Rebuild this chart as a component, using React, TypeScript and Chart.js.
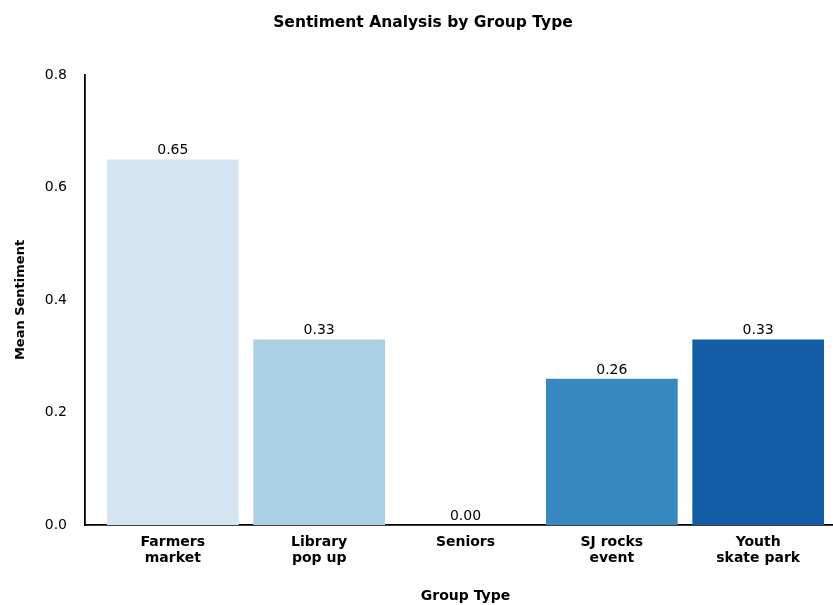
import React, { useEffect, useRef } from "react";
import { Chart, registerables } from "chart.js";

Chart.register(...registerables);

// Groups along the x axis (multi-line labels)
const groupLabels: string[][] = [
  ["Farmers", "market"],
  ["Library", "pop up"],
  ["Seniors"],
  ["SJ rocks", "event"],
  ["Youth", "skate park"],
];

// Mean sentiment per group
const meanSentiment: number[] = [0.65, 0.33, 0.0, 0.26, 0.33];

// Bar fills, light to dark blue
const barColors: string[] = ["#d4e4f3", "#abd0e6", "#6aaed6", "#3888c1", "#135ca6"];

// Y-axis tick values
const yTicks: number[] = [0, 0.2, 0.4, 0.6, 0.8];

const FONT = "'DejaVu Sans', 'Liberation Sans', Arial, sans-serif";

// Prints each bar's value just above its top
const valueLabels = {
  id: "valueLabels",
  afterDatasetsDraw(chart: any) {
    const ctx = chart.ctx;
    const meta = chart.getDatasetMeta(0);
    ctx.save();
    ctx.font = `14px ${FONT}`;
    ctx.fillStyle = "#000";
    ctx.textAlign = "center";
    ctx.textBaseline = "alphabetic";
    meta.data.forEach((bar: any, i: number) => {
      ctx.fillText(meanSentiment[i].toFixed(2), bar.x, bar.y - 5);
    });
    ctx.restore();
  },
};

export default function App() {
  const canvasRef = useRef<HTMLCanvasElement | null>(null);

  useEffect(() => {
    if (!canvasRef.current) return;
    const chart = new Chart(canvasRef.current, {
      type: "bar",
      data: {
        datasets: [
          {
            data: meanSentiment.map((v, i) => ({ x: i, y: v })),
            backgroundColor: barColors,
            borderWidth: 0,
            barPercentage: 0.9,
            categoryPercentage: 1.0,
          },
        ],
      },
      options: {
        responsive: false,
        animation: false,
        layout: { padding: { left: 0, right: 85, top: 0, bottom: 0 } },
        plugins: {
          legend: { display: false },
          tooltip: { enabled: false },
          title: {
            display: true,
            text: "Sentiment Analysis by Group Type",
            color: "#000",
            font: { family: FONT, size: 15.5, weight: "bold", lineHeight: 1.2 },
            padding: { top: 13.5, bottom: 42.9 },
          },
        },
        scales: {
          x: {
            type: "linear",
            min: -0.6,
            max: groupLabels.length - 0.4,
            offset: false,
            grid: { display: false },
            border: { display: true, color: "#000", width: 1.8 },
            afterBuildTicks: (axis: any) => {
              axis.ticks = groupLabels.map((_, i) => ({ value: i }));
            },
            afterFit: (axis: any) => {
              axis.height = 80;
            },
            ticks: {
              autoSkip: false,
              maxRotation: 0,
              padding: 1,
              color: "#000",
              font: { family: FONT, size: 14, weight: "bold", lineHeight: 1.15 },
              callback: (value: any) => groupLabels[Number(value)] ?? "",
            },
            title: {
              display: true,
              text: "Group Type",
              color: "#000",
              font: { family: FONT, size: 14, weight: "bold", lineHeight: 1.2 },
              padding: { top: 0, bottom: 0.6 },
            },
          },
          y: {
            min: 0,
            max: 0.8,
            grid: { display: false },
            border: { display: true, color: "#000", width: 1.8 },
            afterBuildTicks: (axis: any) => {
              axis.ticks = yTicks.map((v) => ({ value: v }));
            },
            afterFit: (axis: any) => {
              axis.width = 85;
            },
            ticks: {
              padding: 10,
              color: "#000",
              font: { family: FONT, size: 14 },
              callback: (value: any) => Number(value).toFixed(1),
            },
            title: {
              display: true,
              text: "Mean Sentiment",
              color: "#000",
              font: { family: FONT, size: 13, weight: "bold", lineHeight: 1.2 },
              padding: { top: 13.2, bottom: 0 },
            },
          },
        },
      },
      plugins: [valueLabels],
    } as any);
    return () => chart.destroy();
  }, []);

  return (
    <div
      style={{
        position: "fixed",
        left: 0,
        top: 0,
        width: 833,
        height: 605,
        overflow: "hidden",
        background: "#fff",
      }}
    >
      <canvas ref={canvasRef} width={931} height={605} style={{ display: "block" }} />
    </div>
  );
}
